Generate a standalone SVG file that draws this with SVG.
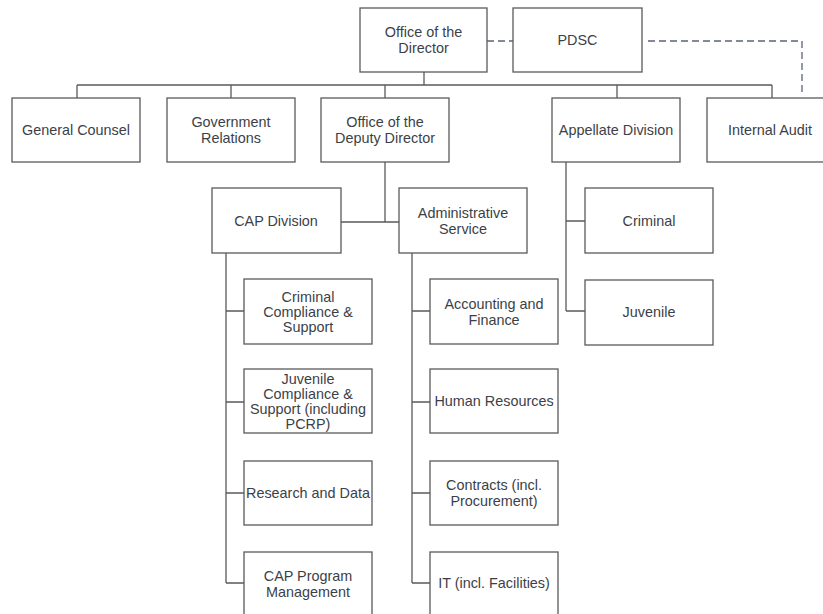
<svg xmlns="http://www.w3.org/2000/svg" width="823" height="614" viewBox="0 0 823 614">
  <style>
    .box { fill: #ffffff; stroke: #5a5a5a; stroke-width: 1.3; }
    .ln { fill: none; stroke: #5a5a5a; stroke-width: 1.3; }
    .dash { fill: none; stroke: #5a6478; stroke-width: 1.3; stroke-dasharray: 7 4; }
    text { font-family: "Liberation Sans", Arial, sans-serif; font-size: 14.4px; fill: #3c3f47; text-anchor: middle; }
  </style>
  <rect width="823" height="614" fill="#ffffff"/>

  <g id="connectors">
    <!-- top-level bus -->
    <path class="ln" d="M424 72 V85 M77 85 H772 M77 85 V98 M231 85 V98 M385 85 V98 M617 85 V98 M772 85 V98"/>
    <!-- deputy director to divisions -->
    <path class="ln" d="M385 162 V222 M341 222 H399"/>
    <!-- CAP division branch -->
    <path class="ln" d="M226 253 V583 M226 311 H244 M226 402 H244 M226 493 H244 M226 583 H244"/>
    <!-- administrative service branch -->
    <path class="ln" d="M412 253 V583 M412 311 H430 M412 402 H430 M412 493 H430 M412 583 H430"/>
    <!-- appellate division branch -->
    <path class="ln" d="M566 162 V311 M566 221 H585 M566 311 H585"/>
    <!-- dashed advisory links -->
    <path class="dash" d="M487 41 H513"/>
    <path class="dash" d="M648 41 H802 V92"/>
  </g>

  <g id="director">
    <rect class="box" x="360" y="8" width="127" height="64"/>
    <text x="423.5" y="37">Office of the</text>
    <text x="423.5" y="53">Director</text>
  </g>
  <g id="pdsc">
    <rect class="box" x="513" y="8" width="129" height="64"/>
    <text x="577.5" y="45">PDSC</text>
  </g>

  <g id="general-counsel">
    <rect class="box" x="12" y="98" width="128" height="64"/>
    <text x="76" y="135">General Counsel</text>
  </g>
  <g id="government-relations">
    <rect class="box" x="167" y="98" width="128" height="64"/>
    <text x="231" y="127">Government</text>
    <text x="231" y="143">Relations</text>
  </g>
  <g id="deputy-director">
    <rect class="box" x="321" y="98" width="128" height="64"/>
    <text x="385" y="127">Office of the</text>
    <text x="385" y="143">Deputy Director</text>
  </g>
  <g id="appellate-division">
    <rect class="box" x="552" y="98" width="128" height="64"/>
    <text x="616" y="135">Appellate Division</text>
  </g>
  <g id="internal-audit">
    <rect class="box" x="707" y="98" width="127" height="64"/>
    <text x="770" y="135">Internal Audit</text>
  </g>

  <g id="cap-division">
    <rect class="box" x="212" y="188" width="129" height="65"/>
    <text x="276" y="226">CAP Division</text>
  </g>
  <g id="administrative-service">
    <rect class="box" x="399" y="188" width="128" height="65"/>
    <text x="463" y="218">Administrative</text>
    <text x="463" y="234">Service</text>
  </g>

  <g id="appellate-criminal">
    <rect class="box" x="585" y="188" width="128" height="65"/>
    <text x="649" y="226">Criminal</text>
  </g>
  <g id="appellate-juvenile">
    <rect class="box" x="585" y="280" width="128" height="65"/>
    <text x="649" y="317">Juvenile</text>
  </g>

  <g id="criminal-compliance">
    <rect class="box" x="244" y="279" width="128" height="65"/>
    <text x="308" y="302">Criminal</text>
    <text x="308" y="317">Compliance &amp;</text>
    <text x="308" y="332">Support</text>
  </g>
  <g id="juvenile-compliance">
    <rect class="box" x="244" y="369" width="128" height="64"/>
    <text x="308" y="384">Juvenile</text>
    <text x="308" y="399">Compliance &amp;</text>
    <text x="308" y="414">Support (including</text>
    <text x="308" y="429">PCRP)</text>
  </g>
  <g id="research-data">
    <rect class="box" x="244" y="461" width="128" height="64"/>
    <text x="308" y="498">Research and Data</text>
  </g>
  <g id="cap-program">
    <rect class="box" x="244" y="552" width="128" height="66"/>
    <text x="308" y="581">CAP Program</text>
    <text x="308" y="597">Management</text>
  </g>

  <g id="accounting-finance">
    <rect class="box" x="430" y="279" width="128" height="65"/>
    <text x="494" y="309">Accounting and</text>
    <text x="494" y="325">Finance</text>
  </g>
  <g id="human-resources">
    <rect class="box" x="430" y="369" width="128" height="64"/>
    <text x="494" y="406">Human Resources</text>
  </g>
  <g id="contracts">
    <rect class="box" x="430" y="461" width="128" height="64"/>
    <text x="494" y="490">Contracts (incl.</text>
    <text x="494" y="506">Procurement)</text>
  </g>
  <g id="it-facilities">
    <rect class="box" x="430" y="552" width="128" height="66"/>
    <text x="494" y="588">IT (incl. Facilities)</text>
  </g>
</svg>
